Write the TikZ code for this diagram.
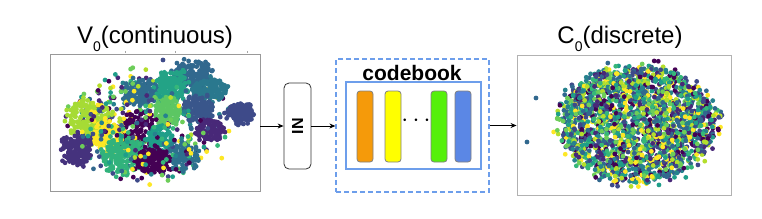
\documentclass[tikz,border=0pt]{standalone}
\usepackage{fontspec}
\setmainfont{Liberation Sans}
\usepackage{xcolor}
\usetikzlibrary{arrows.meta,positioning,calc}

% viridis
\definecolor{vir0}{HTML}{440154}
\definecolor{vir1}{HTML}{482878}
\definecolor{vir2}{HTML}{3E4A89}
\definecolor{vir3}{HTML}{31688E}
\definecolor{vir4}{HTML}{26828E}
\definecolor{vir5}{HTML}{1F9E89}
\definecolor{vir6}{HTML}{35B779}
\definecolor{vir7}{HTML}{6DCD59}
\definecolor{vir8}{HTML}{B4DE2C}
\definecolor{vir9}{HTML}{FDE725}
\definecolor{cbblue}{HTML}{6D9EEB}
\definecolor{barorange}{HTML}{F59A0A}
\definecolor{baryellow}{HTML}{FFFF00}
\definecolor{bargreen}{HTML}{55F00A}
\definecolor{barblue}{HTML}{5B87E5}

% one blob of points: x, y, rx, ry, count, colour
\newcommand{\scatterblob}[6]{%
  \foreach \k in {1,...,#5}{%
    \pgfmathsetmacro{\ang}{360*rnd}%
    \pgfmathsetmacro{\rad}{rnd^0.6*(1+0.4*rnd^3)}%
    \fill[#6] ({#1+#3*\rad*cos(\ang)},{#2+#4*\rad*sin(\ang)}) circle (2.4pt);
  }%
}
% blob with mixed colours: x, y, rx, ry, count
\newcommand{\scattermix}[5]{%
  \foreach \k in {1,...,#5}{%
    \pgfmathsetmacro{\ang}{360*rnd}%
    \pgfmathsetmacro{\rad}{sqrt(rnd)*(1+0.18*rnd^4)}%
    \pgfmathtruncatemacro{\ci}{min(9,int(10*rnd))}%
    \fill[vir\ci] ({#1+#3*\rad*cos(\ang)},{#2+#4*\rad*sin(\ang)}) circle (2.4pt);
  }%
}

\begin{document}
\begin{tikzpicture}[
    x=1pt, y=-1pt,
    plotbox/.style={
        rectangle,
        inner sep=0pt,
        draw=gray!80,
        line width=0.9pt
    },
    title/.style={
        anchor=base,
        inner sep=0pt,
        font=\fontsize{24}{28}\selectfont
    },
    normbox/.style={
        rectangle,
        rounded corners=5pt,
        minimum width=27pt,
        minimum height=86pt,
        inner sep=0pt,
        draw=black!80,
        line width=0.8pt
    },
    codebar/.style={
        rectangle,
        rounded corners=3pt,
        minimum width=16pt,
        minimum height=71pt,
        inner sep=0pt,
        draw=gray,
        line width=0.8pt
    },
    arrow/.style={-{Stealth[length=6pt,width=5pt]}, line width=1pt}
]
\useasboundingbox (0,0) rectangle (762,218);
\pgfmathsetseed{4211}

% Left plot V_0
\node[plotbox, minimum width=210pt, minimum height=137pt] (vplot) at (155,122.5) {};
\node[title] (vtitle) at (155,43) {V\raisebox{-8pt}{\fontsize{14}{14}\selectfont 0}(continuous)};
\foreach \tx in {125,175,247}
    \draw[gray!70, line width=1pt] (\tx,51) -- (\tx,53);

\scattermix{148}{125}{80}{56}{220}
\scatterblob{193}{74}{18}{13}{170}{vir3}
\scatterblob{141}{92}{16}{12}{140}{vir3!85!vir4}
\scatterblob{210}{90}{17}{11}{130}{vir4!60!vir3}
\scatterblob{172}{86}{15}{15}{170}{vir5!80!vir6}
\scatterblob{198}{109}{15}{12}{140}{vir2!60!vir3}
\scatterblob{168}{111}{12}{13}{120}{vir7!70!vir6}
\scatterblob{240}{113}{13}{10}{110}{vir2}
\scatterblob{210}{130}{13}{10}{120}{vir1}
\scatterblob{90}{120}{21}{20}{230}{vir8!80!vir7}
\scatterblob{78}{148}{15}{15}{150}{vir1!70!vir2}
\scatterblob{137}{133}{17}{20}{110}{vir0}
\scatterblob{107}{137}{13}{17}{140}{vir9}
\scatterblob{122}{155}{20}{18}{200}{vir6!80!vir5}
\scatterblob{160}{140}{13}{13}{120}{vir5}
\scatterblob{183}{157}{15}{13}{120}{vir3!70!vir4}
\scatterblob{152}{161}{15}{12}{160}{vir0}
\scattermix{140}{130}{60}{45}{140}
\fill[vir2] (163,60) circle (2.4pt);

% Norm block
\node[normbox] (norm) at (297.5,126) {};
\node[rotate=90, font=\fontsize{16}{16}\selectfont\bfseries] (normlabel) at (norm) {IN};

% Codebook
\node[rectangle, inner sep=0pt, minimum width=153pt, minimum height=133pt,
      draw=cbblue, line width=1.2pt, dash pattern=on 5pt off 3pt] (cbouter) at (412.5,125.5) {};
\node[rectangle, inner sep=0pt, minimum width=135pt, minimum height=87pt,
      draw=cbblue, line width=2pt] (cbinner) at (413.5,125.5) {};
\node[anchor=base, inner sep=0pt, font=\fontsize{21}{21}\selectfont\bfseries] (cblabel) at (412,80) {codebook};
\node[codebar, fill=barorange] (bar1) at (365,126.5) {};
\node[codebar, fill=baryellow] (bar2) at (393,126.5) {};
\node[codebar, fill=bargreen] (bar3) at (439,126.5) {};
\node[codebar, fill=barblue] (bar4) at (463,126.5) {};
\node[font=\fontsize{26}{26}\selectfont] (cbdots) at (416,121) {$\cdots$};

% Right plot C_0
\node[plotbox, draw=gray!60, minimum width=214pt, minimum height=140pt] (cplot) at (624,125) {};
\node[title] (ctitle) at (620,43) {C\raisebox{-8pt}{\fontsize{14}{14}\selectfont 0}(discrete)};
\scattermix{638}{124}{76}{57}{2200}
\fill[vir3] (536,98) circle (2.4pt);
\fill[vir3] (527,142) circle (2.4pt);

% Arrows
\draw[arrow] (vplot.east |- norm.west) -- (norm.west);
\draw[arrow] (norm.east) -- (cbouter.west |- norm.east);
\draw[arrow] (cbouter.east) -- (cplot.west |- cbouter.east);

\end{tikzpicture}
\end{document}
